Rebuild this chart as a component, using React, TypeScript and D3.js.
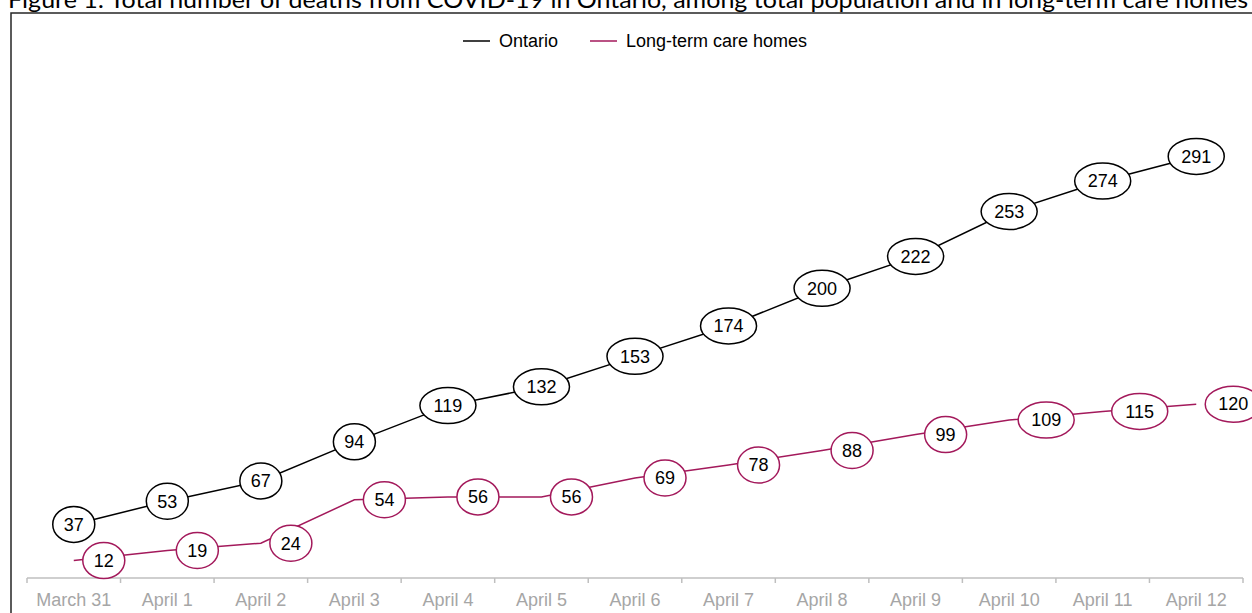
import React from "react";
import * as d3 from "d3";

const categories = [
  "March 31", "April 1", "April 2", "April 3", "April 4", "April 5", "April 6",
  "April 7", "April 8", "April 9", "April 10", "April 11", "April 12",
];
const ontario = [37, 53, 67, 94, 119, 132, 153, 174, 200, 222, 253, 274, 291];
const ltc = [12, 19, 24, 54, 56, 56, 69, 78, 88, 99, 109, 115, 120];
const seriesNames = ["Ontario", "Long-term care homes"];
const title =
  "Figure 1: Total number of deaths from COVID-19 in Ontario, among total population and in long-term care homes";

const W = 1252;
const H = 613;
const ONT_COLOR = "#000000";
const LTC_COLOR = "#a3195b";
const FONT = "'Liberation Sans', Arial, sans-serif";

export default function App() {
  const x = d3.scaleBand<string>().domain(categories).range([27, 1243]).padding(0);
  const bw = x.bandwidth();
  const cx = (i: number) => (x(categories[i]) as number) + bw / 2;
  const y = d3.scaleLinear().domain([0, 350]).range([578, 71]);

  const line = d3
    .line<number>()
    .x((_, i) => cx(i))
    .y((d) => y(d));

  const rxFor = (v: number) => {
    const tw = String(v).length * 0.556 * 18;
    return 7 + tw * 0.7;
  };
  const RY = 18;

  const boundaries = d3.range(categories.length + 1).map((i) =>
    i < categories.length ? (x(categories[i]) as number) : 1243
  );

  return (
    <svg
      width={W}
      height={H}
      style={{ position: "absolute", left: 0, top: 0, background: "#fff" }}
      fontFamily={FONT}
    >
      <rect x={0} y={0} width={W} height={H} fill="#fff" />
      {/* title (clipped by top edge) */}
      <text
        x={8}
        y={8}
        fontFamily="Lato, 'Open Sans', sans-serif"
        fontSize={24}
        fill="#000"
        textLength={1240}
        lengthAdjust="spacingAndGlyphs"
      >
        {title}
      </text>
      {/* chart border */}
      <rect x={11} y={13} width={1260} height={620} fill="none" stroke="#262626" strokeWidth={1.5} />

      {/* legend */}
      <g fontSize={18}>
        <line x1={463} x2={490} y1={41} y2={41} stroke={ONT_COLOR} strokeWidth={1.5} />
        <text x={499} y={41} dy="0.35em" fill="#000">{seriesNames[0]}</text>
        <line x1={590} x2={617} y1={41} y2={41} stroke={LTC_COLOR} strokeWidth={1.5} />
        <text x={626} y={41} dy="0.35em" fill="#000">{seriesNames[1]}</text>
      </g>

      {/* x axis */}
      <line x1={27} x2={1243} y1={y(0)} y2={y(0)} stroke="#bfbfbf" strokeWidth={1.5} />
      {boundaries.map((bx, i) => (
        <line key={i} x1={bx} x2={bx} y1={y(0)} y2={y(0) + 5} stroke="#bfbfbf" strokeWidth={1.5} />
      ))}
      {categories.map((c, i) => (
        <text key={c} x={cx(i)} y={606} textAnchor="middle" fontSize={18} fill="#a6a6a6">
          {c}
        </text>
      ))}

      {/* lines */}
      <path d={line(ontario) || ""} fill="none" stroke={ONT_COLOR} strokeWidth={1.5} />
      <path d={line(ltc) || ""} fill="none" stroke={LTC_COLOR} strokeWidth={1.5} />

      {/* Ontario labels (centered) */}
      {ontario.map((v, i) => {
        const rx = rxFor(v);
        return (
          <g key={"o" + i}>
            <ellipse cx={cx(i)} cy={y(v)} rx={rx} ry={RY} fill="#fff" stroke={ONT_COLOR} strokeWidth={1.5} />
            <text x={cx(i)} y={y(v)} dy="0.35em" textAnchor="middle" fontSize={18} fill="#000">
              {v}
            </text>
          </g>
        );
      })}

      {/* LTC labels (right of point) */}
      {ltc.map((v, i) => {
        const rx = rxFor(v);
        const lx = cx(i) + 9 + rx;
        return (
          <g key={"l" + i}>
            <ellipse cx={lx} cy={y(v)} rx={rx} ry={RY} fill="#fff" stroke={LTC_COLOR} strokeWidth={1.5} />
            <text x={lx} y={y(v)} dy="0.35em" textAnchor="middle" fontSize={18} fill="#000">
              {v}
            </text>
          </g>
        );
      })}
    </svg>
  );
}
